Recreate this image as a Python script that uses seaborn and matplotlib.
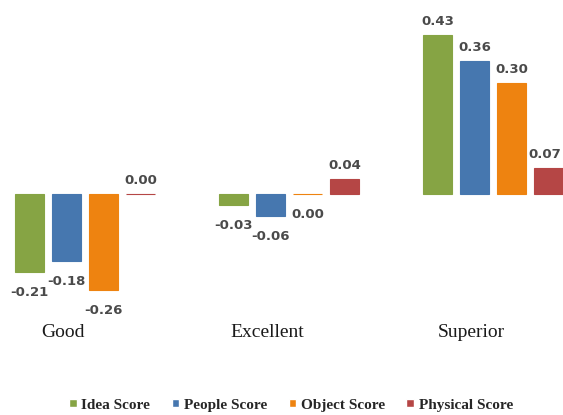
import matplotlib.pyplot as plt
import matplotlib.transforms as mtransforms
import pandas as pd
import seaborn as sns

# values
levels = ["Good", "Excellent", "Superior"]
series = ["Idea Score", "People Score", "Object Score", "Physical Score"]
idea = [-0.21, -0.03, 0.43]
people = [-0.18, -0.06, 0.36]
objects = [-0.26, 0.00, 0.30]
physical = [0.00, 0.04, 0.07]
colors = ["#86A444", "#4677AF", "#EE8310", "#B54645"]

df = pd.DataFrame({
    "level": levels * 4,
    "series": [s for s in series for _ in levels],
    "score": idea + people + objects + physical,
})

sns.set_style("white")
fig = plt.figure(figsize=(5.63, 4.15), dpi=100)
ax = fig.add_axes([0, 1 - 300 / 415, 1, 280 / 415])

sns.barplot(
    data=df, x="level", y="score", hue="series", order=levels,
    hue_order=series, palette=colors, width=0.725, gap=0.22,
    saturation=1, ax=ax, legend=True,
)

# thin edge so the 0.00 bars still show as a line
labels_by_series = []
for container, col in zip(ax.containers, colors):
    for patch in container:
        patch.set_edgecolor(col)
        patch.set_linewidth(0.8)
    anns = ax.bar_label(container, fmt="%.2f", padding=5, fontsize=9.5,
                        color="#4a4a4a", fontweight="bold", family="DejaVu Sans")
    # labels under negative bars sit further away in the original
    for ann, val in zip(anns, container.datavalues):
        if val < 0:
            ann.xyann = (0, -10)
    labels_by_series.append(anns)

# the Object 0.00 label in "Excellent" sits under its bar in the original
lab = labels_by_series[2][1]
lab.xyann = (0, -10)
lab.set_va("top")
# keep the last label inside the picture
labels_by_series[3][2].xyann = (-3, 5)

ax.set_xlim(-0.417, 2.343)
ax.set_ylim(-0.286, 0.47)
ax.set_xlabel("")
ax.set_ylabel("")
ax.set_yticks([])
ax.set_xticks([])
sns.despine(ax=ax, left=True, bottom=True)

# category labels sit a little left of the group centres, below the plot
shift = mtransforms.ScaledTranslation(-22 / 100, 0, fig.dpi_scale_trans)
for i, name in enumerate(levels):
    ax.text(i, -0.375, name, ha="center", va="center", fontsize=14,
            family="Liberation Serif", color="#1a1a1a",
            transform=ax.transData + shift, clip_on=False)

handles, labels = ax.get_legend_handles_labels()
ax.legend_.remove()
fig.legend(handles, labels, loc="center", bbox_to_anchor=(291 / 563, 1 - 405 / 415),
           ncol=4, frameon=False, handlelength=0.5, handleheight=0.5,
           handletextpad=0.3, columnspacing=1.4,
           prop={"family": "Liberation Serif", "weight": "bold", "size": 11})

fig.savefig("out.png", dpi=100)
